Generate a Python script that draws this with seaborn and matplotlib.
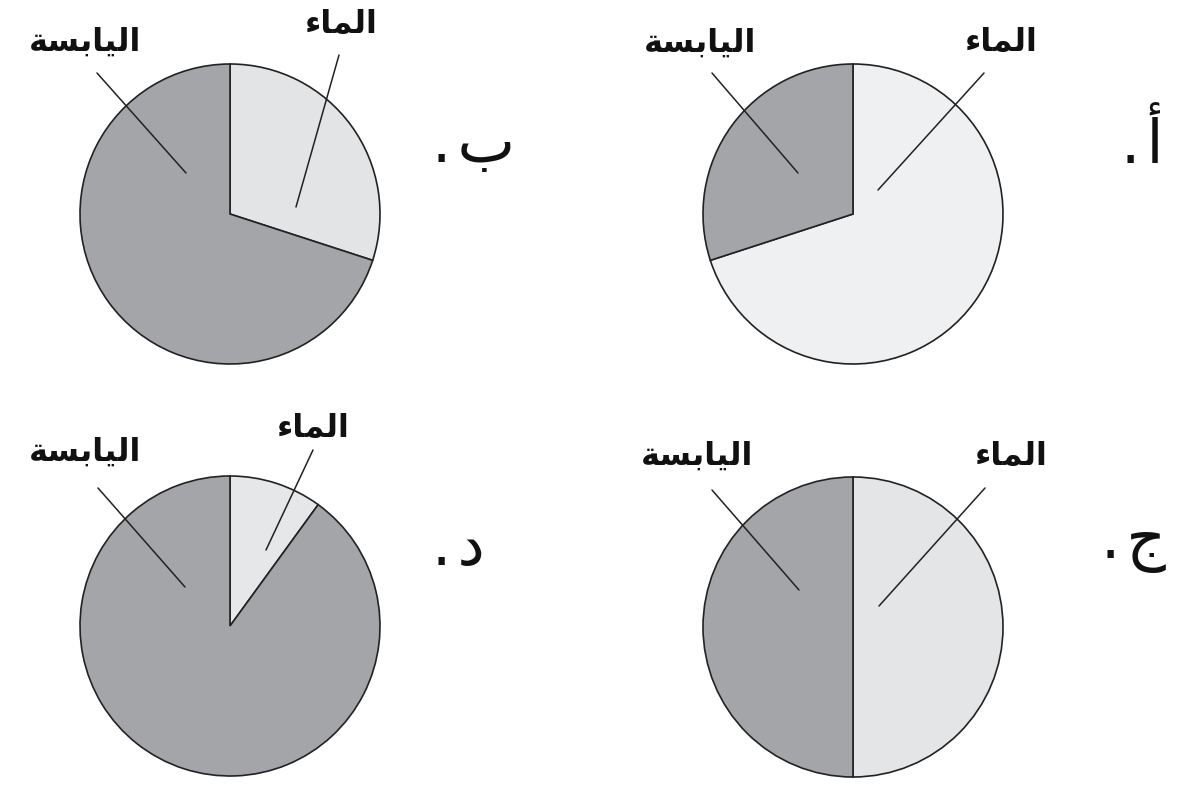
import matplotlib
matplotlib.use("Agg")
import matplotlib.pyplot as plt
import seaborn as sns

# Data: share of the pie (percent) for each option
panels = ["أ", "ب", "ج", "د"]
water_pct = [70, 30, 50, 10]
land_pct = [30, 70, 50, 90]

# Arabic labels in presentation forms, visual (left-to-right) order,
# because matplotlib does no Arabic shaping: "الماء" and "اليابسة"
water_label = "\uFE80\uFE8E\uFEE4\uFEDF\uFE8D"
land_label = "\uFE94\uFEB4\uFE91\uFE8E\uFEF4\uFEDF\uFE8D"

# Layout in figure pixels (y measured from top)
W, H = 1186, 785
centers = [(853, 214), (230, 214), (853, 627), (230, 626)]
radius = 150
water_colors = ["#eff0f2", "#e3e4e6", "#e4e5e7", "#e6e7e9"]
land_color = "#a4a5a8"
water_text = [(1000, 43), (340, 24), (1010, 456), (312, 428)]
land_text = [(700, 43), (85, 42), (697, 456), (85, 452)]
water_lines = [((984, 73), (878, 190)), ((339, 55), (296, 207)),
               ((985, 488), (879, 606)), ((313, 450), (266, 550))]
land_lines = [((712, 73), (798, 173)), ((97, 73), (186, 173)),
              ((712, 490), (799, 590)), ((98, 488), (185, 587))]
panel_pos = [(1142, 163), (474, 162), (1133, 558), (458, 565)]

sns.set_theme(style="white")
plt.rcParams["font.family"] = ["DejaVu Sans"]

fig = plt.figure(figsize=(W / 100, H / 100), dpi=100)
ax = fig.add_axes([0, 0, 1, 1])


def fy(y):
    return H - y


for i in range(4):
    cx, cy = centers[i]
    ax.pie([water_pct[i], land_pct[i]], center=(cx, fy(cy)), radius=radius,
           startangle=90, counterclock=False,
           colors=[water_colors[i], land_color],
           wedgeprops=dict(edgecolor="#222222", linewidth=1.2))

    for (x0, y0), (x1, y1) in [water_lines[i], land_lines[i]]:
        ax.annotate("", xy=(x1, fy(y1)), xytext=(x0, fy(y0)),
                    arrowprops=dict(arrowstyle="-", color="#222222", lw=1.1,
                                    shrinkA=0, shrinkB=0))

    tx, ty = water_text[i]
    ax.text(tx, fy(ty), water_label, ha="center", va="center",
            fontsize=23, fontweight="bold", color="#111111")
    tx, ty = land_text[i]
    ax.text(tx, fy(ty), land_label, ha="center", va="center",
            fontsize=23, fontweight="bold", color="#111111")

    px, py = panel_pos[i]
    ax.text(px, fy(py), ".\u200A" + panels[i], ha="center", va="baseline",
            fontsize=44, color="#111111")

ax.set_xlim(0, W)
ax.set_ylim(0, H)
ax.set_aspect("equal")
ax.axis("off")

fig.savefig("out.png", dpi=100, facecolor="white")
